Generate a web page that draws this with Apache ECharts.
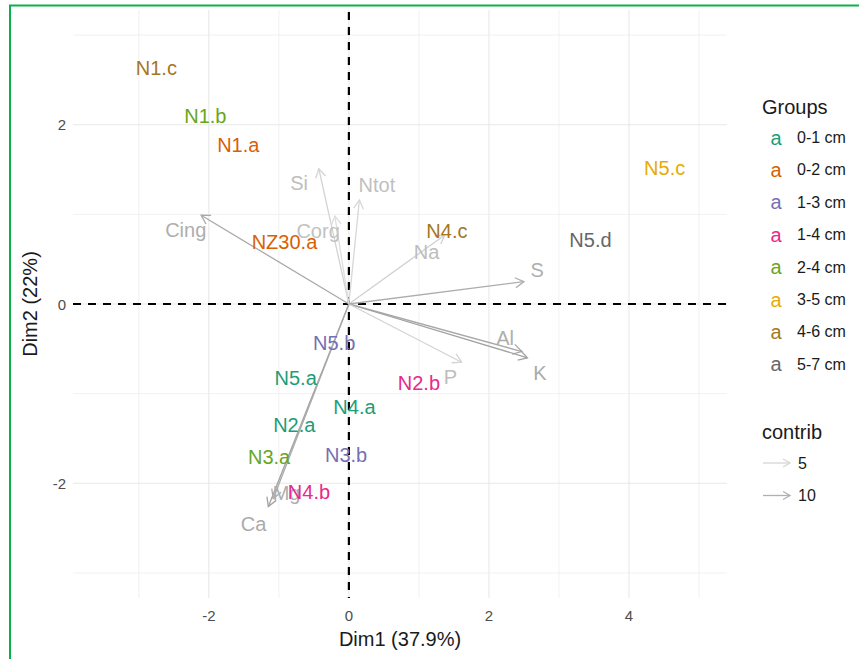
<!DOCTYPE html>
<html>
<head>
<meta charset="utf-8">
<script src="https://cdn.jsdelivr.net/npm/echarts@6/dist/echarts.min.js"></script>
<style>
  html, body { margin: 0; padding: 0; background: #ffffff; }
  #chart { width: 859px; height: 659px; }
</style>
</head>
<body>
<div id="chart"></div>
<script>
// ---------- data ----------
const groups = ['0-1 cm', '0-2 cm', '1-3 cm', '1-4 cm', '2-4 cm', '3-5 cm', '4-6 cm', '5-7 cm'];
const groupColors = ['#1B9E77', '#D95F02', '#7570B3', '#E7298A', '#66A61E', '#E6AB02', '#A6761D', '#666666'];

const indNames = ['N1.c', 'N1.b', 'N1.a', 'NZ30.a', 'N4.c', 'N5.c', 'N5.d', 'N5.b', 'N5.a', 'N4.a', 'N2.a', 'N3.a', 'N3.b', 'N4.b', 'N2.b'];
const indGroup = ['4-6 cm', '2-4 cm', '0-2 cm', '0-2 cm', '4-6 cm', '3-5 cm', '5-7 cm', '1-3 cm', '0-1 cm', '0-1 cm', '0-1 cm', '2-4 cm', '1-3 cm', '1-4 cm', '1-4 cm'];
const indDim1 = [-2.75, -2.05, -1.58, -0.92, 1.40, 4.51, 3.45, -0.21, -0.76, 0.08, -0.78, -1.14, -0.04, -0.57, 1.00];
const indDim2 = [2.63, 2.10, 1.77, 0.69, 0.82, 1.52, 0.71, -0.44, -0.82, -1.15, -1.35, -1.71, -1.68, -2.10, -0.88];

const varNames = ['Cing', 'Si', 'Ntot', 'Corg', 'Na', 'S', 'Al', 'K', 'P', 'Ca', 'Mg'];
const varDim1 = [-2.11, -0.43, 0.15, -0.20, 1.37, 2.50, 2.47, 2.55, 1.61, -1.15, -1.08];
const varDim2 = [0.99, 1.51, 1.16, 0.98, 0.77, 0.25, -0.53, -0.60, -0.65, -2.26, -2.17];
const varContrib = [11, 5, 4.5, 3.5, 5.5, 10.5, 11, 12, 5, 12, 11];
const varLabelDim1 = [-2.33, -0.71, 0.40, -0.44, 1.11, 2.69, 2.23, 2.73, 1.45, -1.36, -0.89];
const varLabelDim2 = [0.83, 1.35, 1.33, 0.81, 0.58, 0.38, -0.38, -0.77, -0.81, -2.45, -2.11];

const contribLegend = [5, 10];

const xTicks = [-2, 0, 2, 4];
const yTicks = [-2, 0, 2];
const xGridMajor = [-2, 0, 2, 4];
const xGridMinor = [-3, -1, 1, 3, 5];
const yGridMajor = [-2, 0, 2];
const yGridMinor = [-3, -1, 1, 3];

// ---------- styling helpers ----------
const FONT = "'Liberation Sans', Arial, Helvetica, sans-serif";
function mix(c1, c2, t) {
  const a = parseInt(c1.slice(1), 16), b = parseInt(c2.slice(1), 16);
  const r = Math.round(((a >> 16) & 255) * (1 - t) + ((b >> 16) & 255) * t);
  const g = Math.round(((a >> 8) & 255) * (1 - t) + ((b >> 8) & 255) * t);
  const bl = Math.round((a & 255) * (1 - t) + (b & 255) * t);
  return 'rgb(' + r + ',' + g + ',' + bl + ')';
}
function contribT(c) { return Math.max(0, Math.min(1, (c - 3.5) / (12 - 3.5))); }
function arrowColor(c) { return mix('#dedede', '#a2a2a2', contribT(c)); }
function labelColor(c) { return mix('#c2c2c2', '#ababab', contribT(c)); }

function chevron(ex, ey, ang, L) {
  const a = Math.PI / 6;
  return [
    [ex - L * Math.cos(ang - a), ey - L * Math.sin(ang - a)],
    [ex, ey],
    [ex - L * Math.cos(ang + a), ey - L * Math.sin(ang + a)]
  ];
}

// ---------- series ----------
function gridSeries(values, dim, width, color) {
  return {
    type: 'custom', silent: true, z: 1,
    data: values.map(v => [v]),
    renderItem: function (params, api) {
      const cs = params.coordSys;
      const v = api.value(0);
      let shape;
      if (dim === 'x') {
        const px = api.coord([v, 0])[0];
        shape = { x1: px, y1: cs.y, x2: px, y2: cs.y + cs.height };
      } else {
        const py = api.coord([0, v])[1];
        shape = { x1: cs.x, y1: py, x2: cs.x + cs.width, y2: py };
      }
      return { type: 'line', shape: shape, style: { stroke: color, lineWidth: width } };
    }
  };
}

const zeroSeries = {
  type: 'custom', silent: true, z: 3,
  data: [['x'], ['y']],
  renderItem: function (params, api) {
    const cs = params.coordSys;
    const o = api.coord([0, 0]);
    const isX = params.dataIndex === 0;
    const shape = isX
      ? { x1: o[0], y1: cs.y + 2, x2: o[0], y2: cs.y + cs.height }
      : { x1: cs.x, y1: o[1], x2: cs.x + cs.width, y2: o[1] };
    return { type: 'line', shape: shape, style: { stroke: '#000000', lineWidth: 2.2, lineDash: [8, 7] } };
  }
};

const arrowSeries = {
  type: 'custom', name: 'variables', silent: true, z: 4,
  data: varNames.map((n, i) => [varDim1[i], varDim2[i], varContrib[i]]),
  renderItem: function (params, api) {
    const x = api.value(0), y = api.value(1), c = api.value(2);
    const o = api.coord([0, 0]);
    const e = api.coord([x, y]);
    const ang = Math.atan2(e[1] - o[1], e[0] - o[0]);
    const col = arrowColor(c);
    return {
      type: 'group',
      children: [
        { type: 'line', shape: { x1: o[0], y1: o[1], x2: e[0], y2: e[1] }, style: { stroke: col, lineWidth: 1.3 } },
        { type: 'polyline', shape: { points: chevron(e[0], e[1], ang, 10) }, style: { stroke: col, fill: null, lineWidth: 1.3 } }
      ]
    };
  }
};

const varLabelSeries = {
  type: 'custom', name: 'variable labels', silent: true, z: 5,
  data: varNames.map((n, i) => [varLabelDim1[i], varLabelDim2[i], varContrib[i], n]),
  renderItem: function (params, api) {
    const p = api.coord([api.value(0), api.value(1)]);
    return {
      type: 'text', x: p[0], y: p[1],
      style: { text: varNames[params.dataIndex], fill: labelColor(api.value(2)), font: '20px ' + FONT, align: 'center', verticalAlign: 'middle' }
    };
  }
};

const indSeries = groups.map((g, gi) => {
  const idx = indNames.map((n, i) => i).filter(i => indGroup[i] === g);
  return {
    type: 'custom', name: g, silent: true, z: 6,
    data: idx.map(i => [indDim1[i], indDim2[i], indNames[i]]),
    renderItem: function (params, api) {
      const p = api.coord([api.value(0), api.value(1)]);
      return {
        type: 'text', x: p[0], y: p[1],
        style: { text: indNames[idx[params.dataIndex]], fill: groupColors[gi], font: '20px ' + FONT, align: 'center', verticalAlign: 'middle' }
      };
    }
  };
});

// ---------- legend graphics ----------
const graphics = [];
graphics.push({ type: 'rect', shape: { x: 10, y: 5.5, width: 900, height: 900 }, style: { stroke: '#0cb04a', fill: null, lineWidth: 2 }, silent: true, z: 100 });
graphics.push({ type: 'text', x: 762, y: 107, style: { text: 'Groups', font: '20px ' + FONT, fill: '#1a1a1a', verticalAlign: 'middle' } });
groups.forEach((g, i) => {
  const y = 137.5 + i * 32.4;
  graphics.push({ type: 'text', x: 776, y: y, style: { text: 'a', font: '20px ' + FONT, fill: groupColors[i], align: 'center', verticalAlign: 'middle' } });
  graphics.push({ type: 'text', x: 797, y: y, style: { text: g, font: '16px ' + FONT, fill: '#1a1a1a', verticalAlign: 'middle' } });
});
graphics.push({ type: 'text', x: 762, y: 432, style: { text: 'contrib', font: '20px ' + FONT, fill: '#1a1a1a', verticalAlign: 'middle' } });
contribLegend.forEach((c, i) => {
  const y = 463 + i * 32.5;
  const col = c === 5 ? '#d6d6d6' : '#b0b0b0';
  graphics.push({ type: 'line', shape: { x1: 763, y1: y, x2: 790, y2: y }, style: { stroke: col, lineWidth: 1.3 } });
  graphics.push({ type: 'polyline', shape: { points: chevron(790, y, 0, 8) }, style: { stroke: col, fill: null, lineWidth: 1.3 } });
  graphics.push({ type: 'text', x: 798, y: y, style: { text: String(c), font: '16px ' + FONT, fill: '#1a1a1a', verticalAlign: 'middle' } });
});

// ---------- chart ----------
const chart = echarts.init(document.getElementById('chart'), null, { renderer: 'svg' });
chart.setOption({
  animation: false,
  backgroundColor: '#ffffff',
  textStyle: { fontFamily: FONT },
  grid: { left: 73, right: 132, top: 10, bottom: 61 },
  xAxis: {
    type: 'value', min: -3.94, max: 5.40,
    axisLine: { show: false }, axisTick: { show: false }, splitLine: { show: false },
    axisLabel: { customValues: xTicks, color: '#4d4d4d', fontSize: 15, margin: 10, fontFamily: FONT },
    name: 'Dim1 (37.9%)', nameLocation: 'middle', nameGap: 31,
    nameTextStyle: { fontSize: 20, color: '#1a1a1a', fontFamily: FONT }
  },
  yAxis: {
    type: 'value', min: -3.28, max: 3.28,
    axisLine: { show: false }, axisTick: { show: false }, splitLine: { show: false },
    axisLabel: { customValues: yTicks, color: '#4d4d4d', fontSize: 15, margin: 7, fontFamily: FONT },
    name: 'Dim2 (22%)', nameLocation: 'middle', nameGap: 33, nameRotate: 90,
    nameTextStyle: { fontSize: 20, color: '#1a1a1a', fontFamily: FONT }
  },
  series: [
    gridSeries(xGridMinor, 'x', 0.8, '#eeeeee'),
    gridSeries(yGridMinor, 'y', 0.8, '#eeeeee'),
    gridSeries(xGridMajor, 'x', 1.1, '#e8e8e8'),
    gridSeries(yGridMajor, 'y', 1.1, '#e8e8e8'),
    zeroSeries,
    arrowSeries,
    varLabelSeries
  ].concat(indSeries),
  graphic: graphics
});
</script>
</body>
</html>
